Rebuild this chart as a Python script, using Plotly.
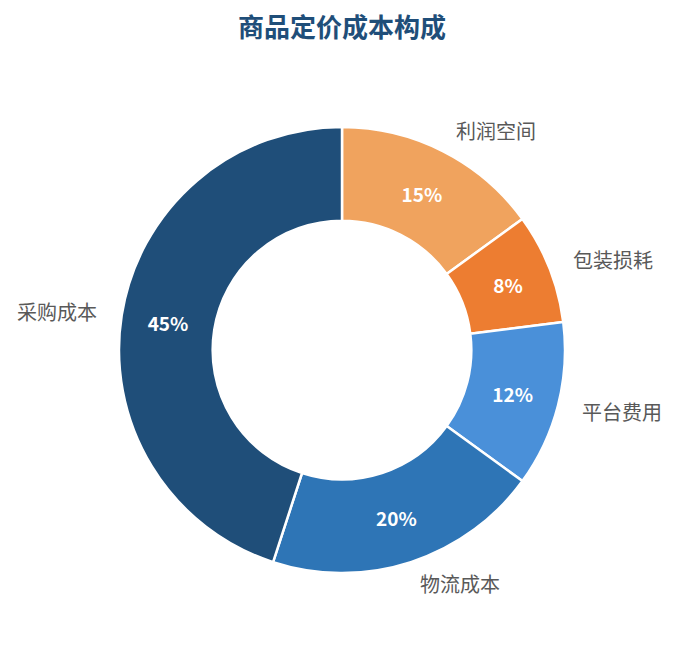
import math
import plotly.graph_objects as go

labels = ["利润空间", "包装损耗", "平台费用", "物流成本", "采购成本"]
values = [15, 8, 12, 20, 45]
colors = ["#F0A35E", "#ED7D31", "#4A90D9", "#2E75B6", "#1F4E79"]

W, H = 679, 645
off = 8  # page body margin
cx, cy, r_out = 342 - off, 350 - off, 223
label_r = 246 / r_out * 0.5  # label radius in paper units

fig = go.Figure()
fig.add_trace(go.Pie(
    labels=labels,
    values=values,
    sort=False,
    direction="clockwise",
    rotation=0,
    hole=0.58,
    marker=dict(colors=colors, line=dict(color="white", width=2.5)),
    texttemplate="%{percent:.0%}",
    textposition="inside",
    insidetextorientation="horizontal",
    textfont=dict(family="Noto Sans CJK SC", size=19, color="white", weight="bold"),
    hoverinfo="label+percent",
    showlegend=False,
))

# category labels outside the ring, at each slice's mid angle
total = sum(values)
cum = 0
for lab, v in zip(labels, values):
    mid = (cum + v / 2) / total * 2 * math.pi
    cum += v
    x = 0.5 + label_r * math.sin(mid)
    y = 0.5 + label_r * math.cos(mid)
    fig.add_annotation(
        x=x, y=y, xref="paper", yref="paper",
        text=lab, showarrow=False,
        xanchor="left" if math.sin(mid) >= 0 else "right",
        yanchor="middle",
        font=dict(family="Noto Sans CJK SC", size=20, color="#595959"),
    )

fig.update_layout(
    width=W, height=H,
    margin=dict(l=cx - r_out, r=W - cx - r_out, t=cy - r_out, b=H - cy - r_out),
    paper_bgcolor="white",
    title=dict(
        text="<b>商品定价成本构成</b>",
        x=(342 - off) / W, xanchor="center", y=1 - (28 - off) / H, yanchor="middle",
        font=dict(family="Noto Sans CJK SC", size=26, color="#1F4E79"),
    ),
)

fig.write_html("out.html")
